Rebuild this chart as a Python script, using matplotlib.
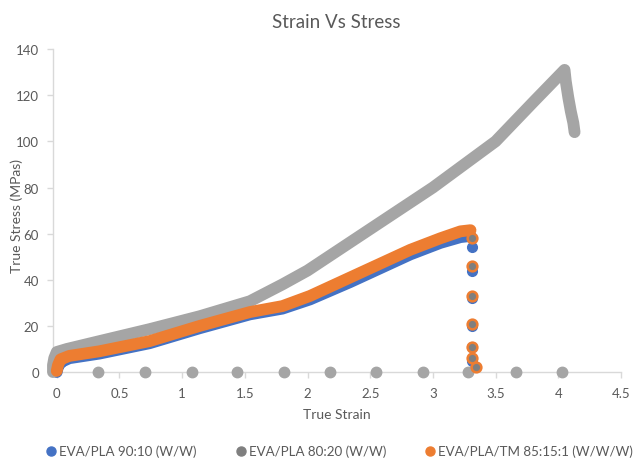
import matplotlib.pyplot as plt
from matplotlib.lines import Line2D

plt.rcParams['font.family'] = ['Lato', 'DejaVu Sans']

# EVA/PLA 90:10
blue_strain = [0.0, 0.01, 0.04, 0.10, 0.34, 0.74, 1.14, 1.54, 1.80, 2.02, 2.34, 2.58, 2.82, 3.06, 3.22, 3.30]
blue_stress = [0.0, 2.5, 4.5, 6.0, 8.0, 12.5, 19.0, 25.0, 27.5, 31.5, 39.0, 45.0, 51.0, 56.0, 58.5, 59.0]
blue_drop_strain = [3.31, 3.31, 3.31, 3.31, 3.31, 3.31]
blue_drop_stress = [54, 44, 32, 20, 11, 5]

# EVA/PLA 80:20
gray_strain = [-0.03, -0.03, -0.02, 0.0, 0.08, 0.34, 0.74, 1.14, 1.54, 1.80, 2.0, 2.5, 3.0, 3.5, 3.8,
               4.05, 4.06, 4.08, 4.10, 4.12, 4.13]
gray_stress = [0, 3, 6, 8.7, 10, 13.4, 18.6, 24.2, 30.7, 38, 44, 62, 80, 100, 117,
               131, 126, 119, 113, 108, 104]
gray_zero_strain = [0.33, 0.70, 1.08, 1.44, 1.81, 2.18, 2.55, 2.92, 3.28, 3.66, 4.03]
gray_zero_stress = [0] * len(gray_zero_strain)

# EVA/PLA/TM 85:15:1
orange_strain = [0.0, 0.01, 0.03, 0.10, 0.34, 0.74, 1.14, 1.54, 1.80, 2.02, 2.34, 2.58, 2.82, 3.06, 3.22, 3.30]
orange_stress = [0.5, 3.0, 5.5, 7.0, 9.0, 13.4, 20.0, 26.0, 28.6, 33.0, 41.0, 47.0, 53.0, 58.0, 61.0, 61.5]
orange_drop_strain = [3.31, 3.31, 3.31, 3.31, 3.31, 3.31, 3.34]
orange_drop_stress = [58, 46, 33, 21, 11, 6, 2]

series_names = ['EVA/PLA 90:10 (W/W)', 'EVA/PLA 80:20 (W/W)', 'EVA/PLA/TM 85:15:1 (W/W/W)']
x_ticks = [0, 0.5, 1, 1.5, 2, 2.5, 3, 3.5, 4, 4.5]
y_ticks = [0, 20, 40, 60, 80, 100, 120, 140]

BLUE = '#4472C4'
GRAY = '#A5A5A5'
ORANGE = '#ED7D31'
DARK = '#7F7F7F'
TEXT = '#595959'
AXIS = '#D9D9D9'

fig = plt.figure(figsize=(6.33, 4.64), dpi=100)
ax = fig.add_axes([0.0837, 0.196, 0.8973, 0.696])

band = dict(lw=8.5, solid_capstyle='round', solid_joinstyle='round', clip_on=False)
ax.plot(blue_strain, blue_stress, color=BLUE, zorder=2, **band)
ax.plot(blue_drop_strain, blue_drop_stress, 'o', ms=7, color=BLUE, mec=BLUE, zorder=2, clip_on=False)

ax.plot(gray_strain, gray_stress, color=GRAY, zorder=3, **band)
ax.plot(gray_zero_strain, gray_zero_stress, 'o', ms=7.5, color=GRAY, zorder=3, clip_on=False)

ax.plot(orange_strain, orange_stress, color=ORANGE, zorder=4, **band)
ax.plot(orange_drop_strain, orange_drop_stress, 'o', ms=7, mfc=DARK, mec=ORANGE, mew=1.8,
        zorder=4, clip_on=False)

ax.set_xlim(-0.03, 4.5)
ax.set_ylim(0, 140)
ax.set_xticks(x_ticks)
ax.set_xticklabels([f'{t:g}' for t in x_ticks])
ax.set_yticks(y_ticks)

for side in ['top', 'right']:
    ax.spines[side].set_visible(False)
for side in ['left', 'bottom']:
    ax.spines[side].set_color(AXIS)
    ax.spines[side].set_linewidth(1.0)
    ax.spines[side].set_zorder(1)

ax.tick_params(axis='both', colors=AXIS, labelcolor=TEXT, labelsize=9.5, length=4, width=1)
ax.tick_params(axis='y', pad=6)
ax.tick_params(axis='x', pad=7)

ax.set_xlabel('True Strain', color=TEXT, fontsize=10, labelpad=6)
fig.text(0.027, 0.535, 'True Stress (MPas)', rotation=90, ha='center', va='center',
         color=TEXT, fontsize=10)

fig.text(0.531, 0.952, 'Strain Vs Stress', ha='center', va='center', color=TEXT, fontsize=13.5)

handles = [
    Line2D([], [], ls='none', marker='o', ms=6.5, color=BLUE),
    Line2D([], [], ls='none', marker='o', ms=6.5, color=DARK),
    Line2D([], [], ls='none', marker='o', ms=6.5, mfc=ORANGE, mec=ORANGE),
]
leg = fig.legend(handles, series_names, loc='center', bbox_to_anchor=(0.535, 0.026), ncol=3,
                 frameon=False, fontsize=9.6, handletextpad=0.1, columnspacing=2.8,
                 handlelength=1.0)
for t in leg.get_texts():
    t.set_color(TEXT)

fig.savefig('out.png', dpi=100)
